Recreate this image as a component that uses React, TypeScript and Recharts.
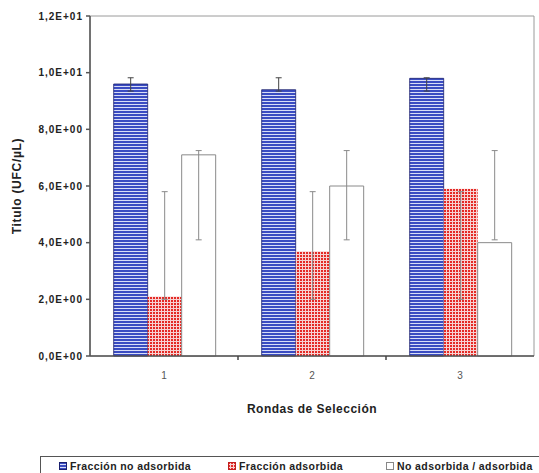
import React from 'react';
import { BarChart, Bar, XAxis, YAxis, ErrorBar, ReferenceArea, Label } from 'recharts';

const rounds = ['1', '2', '3'];
const noAdsorbida = [9.6, 9.4, 9.8];
const adsorbida = [2.1, 3.7, 5.9];
const ratio = [7.1, 6.0, 4.0];
const noAdsErrLow = [9.35, 9.35, 9.35];
const noAdsErrHigh = [9.82, 9.82, 9.82];
const adsErrLow = [2.0, 2.0, 2.0];
const adsErrHigh = [5.8, 5.8, 5.8];
const ratioErrLow = [4.1, 4.1, 4.1];
const ratioErrHigh = [7.25, 7.25, 7.25];
const yTicks = [0, 2, 4, 6, 8, 10, 12];
const yTickLabels = ['0,0E+00', '2,0E+00', '4,0E+00', '6,0E+00', '8,0E+00', '1,0E+01', '1,2E+01'];
const seriesNames = ['Fracción no adsorbida', 'Fracción adsorbida', 'No adsorbida / adsorbida'];

// category i occupies [i, i+1] on a numeric axis; label at centre, separator ticks at boundaries
const data = rounds.map((r, i) => ({
  round: r,
  pos: i + 0.5,
  a: noAdsorbida[i],
  b: adsorbida[i],
  c: ratio[i],
  aErr: [noAdsorbida[i] - noAdsErrLow[i], noAdsErrHigh[i] - noAdsorbida[i]],
  bErr: [adsorbida[i] - adsErrLow[i], adsErrHigh[i] - adsorbida[i]],
  cErr: [ratio[i] - ratioErrLow[i], ratioErrHigh[i] - ratio[i]],
}));
const xTicks: number[] = [];
rounds.forEach((_, i) => {
  xTicks.push(i + 0.5);
  if (i < rounds.length - 1) xTicks.push(i + 1);
});

const FONT = '"Liberation Sans", Arial, Helvetica, sans-serif';

const Patterns = () => (
  <defs>
    <pattern id="bluePat" width="4" height="3" patternUnits="userSpaceOnUse">
      <rect x="0" y="0" width="4" height="3" fill="#3a4cc2" />
      <rect x="0" y="2" width="4" height="1" fill="#d8ddf7" />
    </pattern>
    <pattern id="redPat" width="3" height="3" patternUnits="userSpaceOnUse">
      <rect x="0" y="0" width="3" height="3" fill="#f7d2d2" />
      <rect x="0" y="0" width="2" height="2" fill="#e42a25" />
    </pattern>
  </defs>
);

const XTick = (props: any) => {
  const { x, y, payload } = props;
  const v = payload.value as number;
  if (Number.isInteger(v)) {
    return <line x1={x} x2={x} y1={y} y2={y + 4} stroke="#444" strokeWidth={1.5} />;
  }
  return (
    <text x={x} y={y} dy={23} textAnchor="middle" fill="#555" fontSize={10} fontFamily={FONT}>
      {rounds[Math.floor(v)]}
    </text>
  );
};

const LegendIcon = ({ kind }: { kind: number }) => (
  <svg width="8" height="8" style={{ marginRight: 3, verticalAlign: 'middle', position: 'relative', top: -1 }}>
    <defs>
      <pattern id={'lp' + kind} width="3" height="3" patternUnits="userSpaceOnUse">
        <rect x="0" y="0" width="3" height="3" fill={kind === 1 ? '#f7d2d2' : '#d8ddf7'} />
        <rect x="0" y="0" width={kind === 1 ? 2 : 3} height="2" fill={kind === 1 ? '#e42a25' : '#3a4cc2'} />
      </pattern>
    </defs>
    <rect
      x="0.5"
      y="0.5"
      width="7"
      height="7"
      fill={kind === 2 ? '#ffffff' : `url(#lp${kind})`}
      stroke={kind === 0 ? '#1a1f6e' : kind === 1 ? '#c02020' : '#888888'}
      strokeWidth="1"
    />
  </svg>
);

const legendLeft = [18, 187, 345];

export default function App() {
  return (
    <div style={{ position: 'absolute', left: 0, top: 0, width: 539, height: 473, background: '#fff', fontFamily: FONT, overflow: 'hidden' }}>
      <BarChart
        width={539}
        height={473}
        data={data}
        margin={{ top: 16, right: 5, left: 0, bottom: 58 }}
        barCategoryGap="16%"
        barGap={0}
      >
        <Patterns />
        <ReferenceArea y1={0} y2={12} fill="none" stroke="#9a9a9a" strokeWidth={1} ifOverflow="visible" />
        <XAxis
          type="number"
          dataKey="pos"
          domain={[0, rounds.length]}
          allowDataOverflow
          ticks={xTicks}
          interval={0}
          height={59}
          tickLine={false}
          tickSize={0}
          tickMargin={0}
          axisLine={{ stroke: '#555', strokeWidth: 1.5 }}
          tick={<XTick />}
        >
          <Label
            value="Rondas de Selección"
            position="insideBottom"
            offset={2}
            style={{ fontFamily: FONT, fontSize: 12, fontWeight: 'bold', fill: '#222', letterSpacing: 0.5 }}
          />
        </XAxis>
        <YAxis
          width={90}
          domain={[0, 12]}
          ticks={yTicks}
          interval={0}
          tickSize={4}
          tickMargin={3}
          tickFormatter={(v: number) => yTickLabels[yTicks.indexOf(v)]}
          axisLine={{ stroke: '#555', strokeWidth: 1.5 }}
          tickLine={{ stroke: '#555', strokeWidth: 1.5 }}
          tick={{ fill: '#222', fontSize: 10, fontWeight: 'bold', fontFamily: FONT, letterSpacing: 1 }}
        >
          <Label
            value="Titulo (UFC/µL)"
            angle={-90}
            position="insideLeft"
            offset={17}
            style={{ textAnchor: 'middle', fontFamily: FONT, fontSize: 12, fontWeight: 'bold', fill: '#222', letterSpacing: 0.7 }}
          />
        </YAxis>
        <Bar dataKey="a" name={seriesNames[0]} fill="url(#bluePat)" stroke="#1a1f6e" strokeWidth={0.8} isAnimationActive={false}>
          <ErrorBar dataKey="aErr" width={3} stroke="#444" strokeWidth={1} />
        </Bar>
        <Bar dataKey="b" name={seriesNames[1]} fill="url(#redPat)" isAnimationActive={false}>
          <ErrorBar dataKey="bErr" width={3} stroke="#8a8a8a" strokeWidth={1} />
        </Bar>
        <Bar dataKey="c" name={seriesNames[2]} fill="#ffffff" stroke="#8a8a8a" strokeWidth={1} isAnimationActive={false}>
          <ErrorBar dataKey="cErr" width={3} stroke="#8a8a8a" strokeWidth={1} />
        </Bar>
      </BarChart>
      <div
        style={{
          position: 'absolute',
          left: 40,
          top: 456,
          width: 510,
          height: 30,
          border: '1.5px solid #555',
          boxSizing: 'border-box',
          fontSize: 10.5,
          fontWeight: 'bold',
          color: '#222',
          fontFamily: FONT,
          letterSpacing: 0.4,
        }}
      >
        {seriesNames.map((n, i) => (
          <div key={n} style={{ position: 'absolute', left: legendLeft[i], top: 3, whiteSpace: 'nowrap' }}>
            <LegendIcon kind={i} />
            {n}
          </div>
        ))}
      </div>
    </div>
  );
}
